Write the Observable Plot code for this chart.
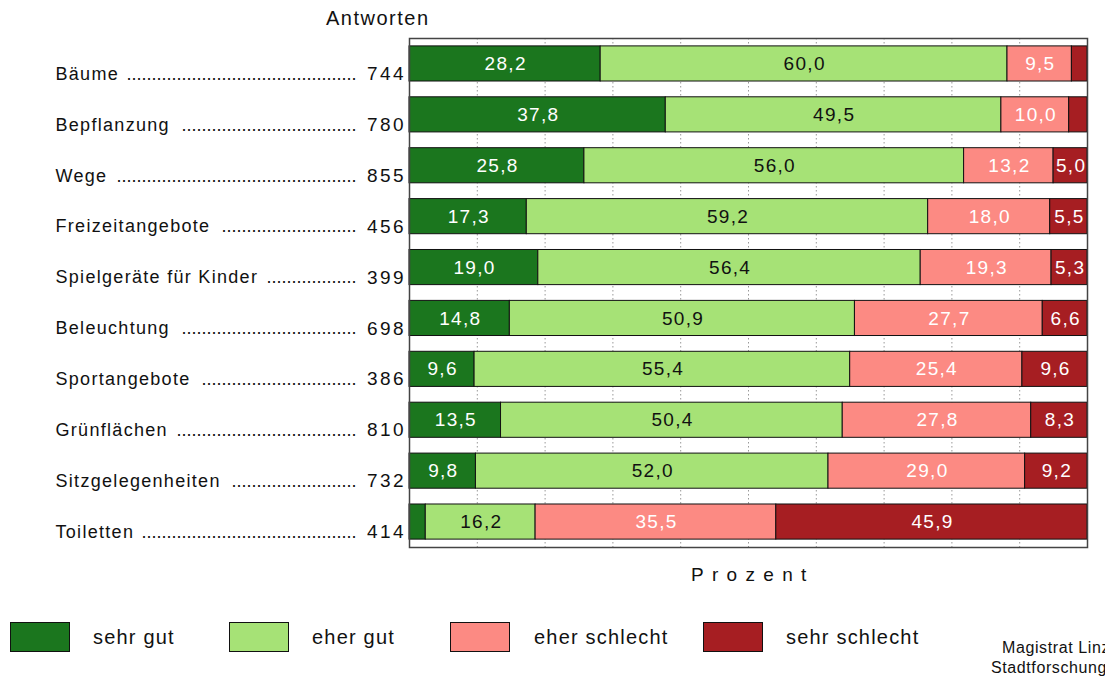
<!DOCTYPE html>
<html>
<head>
<meta charset="utf-8">
<script src="https://cdn.jsdelivr.net/npm/d3@7"></script>
<script src="https://cdn.jsdelivr.net/npm/@observablehq/plot@0.6"></script>
<style>
  html, body { margin: 0; padding: 0; background: #fff; }
  body { width: 1105px; height: 677px; overflow: hidden; position: relative; font-family: "Liberation Sans", Arial, sans-serif; color: #111; }
  .abs { position: absolute; white-space: nowrap; line-height: 1; }
  #chart { position: absolute; left: 0; top: 0; }
  .ls-names text { letter-spacing: 1.3px; }
  .ls-counts text { letter-spacing: 2.4px; }
  .ls-values text { letter-spacing: 1.3px; }
  .ls-dots text { letter-spacing: 0; }
  .sw { position: absolute; width: 58px; height: 28px; border: 1px solid #111; }
</style>
</head>
<body>
<div id="chart"></div>
<script>
// ---- data ----
const items = ["Bäume", "Bepflanzung", "Wege", "Freizeitangebote", "Spielgeräte für Kinder",
  "Beleuchtung", "Sportangebote", "Grünflächen", "Sitzgelegenheiten", "Toiletten"];
const answers = [744, 780, 855, 456, 399, 698, 386, 810, 732, 414];
const categories = ["sehr gut", "eher gut", "eher schlecht", "sehr schlecht"];
const sehrGut      = [28.2, 37.8, 25.8, 17.3, 19.0, 14.8, 9.6, 13.5, 9.8, 2.4];
const eherGut      = [60.0, 49.5, 56.0, 59.2, 56.4, 50.9, 55.4, 50.4, 52.0, 16.2];
const eherSchlecht = [9.5, 10.0, 13.2, 18.0, 19.3, 27.7, 25.4, 27.8, 29.0, 35.5];
const sehrSchlecht = [2.3, 2.7, 5.0, 5.5, 5.3, 6.6, 9.6, 8.3, 9.2, 45.9];
const colors = ["#1b761e", "#a6e276", "#fc8a83", "#a61e22"];
const gridTicks = [10, 20, 30, 40, 50, 60, 70, 80, 90];

const series = [sehrGut, eherGut, eherSchlecht, sehrSchlecht];
const data = [];
items.forEach((item, i) => {
  categories.forEach((cat, j) => data.push({item, cat, value: series[j][i]}));
});
const fmt = v => v.toFixed(1).replace(".", ",");
const rows = items.map((name, i) => ({item: name, count: answers[i]}));

const marginLeft = 409;
const labelLeft = 55, countRight = 403, dotsEnd = 356;
const chart = Plot.plot({
  width: 1105,
  height: 600,
  marginLeft,
  marginRight: 18,
  marginTop: 38,
  marginBottom: 53,
  style: {fontFamily: "'Liberation Sans', Arial, sans-serif", fontSize: "18px", color: "#111", background: "white"},
  x: {domain: [0, 100], axis: null},
  y: {domain: items, axis: null, paddingInner: 0.31, paddingOuter: 0.155, round: false},
  color: {domain: categories, range: colors},
  marks: [
    Plot.ruleX(gridTicks, {x: d => d, stroke: "#999", strokeWidth: 1, strokeDasharray: "1.5,2.5"}),
    Plot.barX(data, Plot.stackX({x: "value", y: "item", fill: "cat", order: categories, stroke: "#111", strokeWidth: 1})),
    Plot.text(data, Plot.stackX({x: "value", y: "item", z: "cat", order: categories, ariaDescription: "values", dx: 0.6,
      text: d => (d.cat !== "eher gut" && d.value >= 5) ? fmt(d.value) : "", fill: "white", fontSize: 19})),
    Plot.text(data, Plot.stackX({x: "value", y: "item", z: "cat", order: categories, ariaDescription: "values", dx: 0.6,
      text: d => (d.cat === "eher gut" && d.value >= 5) ? fmt(d.value) : "", fill: "#111", fontSize: 19})),
    Plot.frame({stroke: "#444", strokeWidth: 1.5}),
    Plot.text(rows, {y: "item", text: "item", frameAnchor: "left", textAnchor: "start", dx: labelLeft - marginLeft, dy: 10, fill: "#111", ariaDescription: "names"}),
    Plot.text(rows, {y: "item", text: () => ".", frameAnchor: "left", textAnchor: "end", dx: dotsEnd - marginLeft, dy: 10, fill: "#111", ariaDescription: "dots"}),
    Plot.text(rows, {y: "item", text: d => String(d.count), frameAnchor: "left", textAnchor: "end", dx: countRight + 2.4 - marginLeft, dy: 10, fill: "#111", fontSize: 19, ariaDescription: "counts"})
  ]
});
document.getElementById("chart").appendChild(chart);

// tag the text groups (fallback: by order of text marks)
const textGroups = chart.querySelectorAll('g[aria-label="text"]');
const roles = ["values", "values", "names", "dots", "counts"];
textGroups.forEach((g, i) => {
  const role = g.getAttribute("aria-description") || roles[i];
  if (role) g.classList.add("ls-" + role);
});

// leader dots: fill the gap between each name and its count
const nameEls = chart.querySelectorAll('.ls-names text');
const dotEls = chart.querySelectorAll('.ls-dots text');
if (dotEls.length && nameEls.length) {
  dotEls[0].textContent = ".".repeat(40);
  const dotW = dotEls[0].getComputedTextLength() / 40;
  dotEls.forEach((el, i) => {
    const nameW = nameEls[i].getComputedTextLength();
    const start = labelLeft + nameW + 7;
    const n = Math.max(0, Math.floor((dotsEnd - start) / dotW));
    el.textContent = ".".repeat(n);
  });
}

// ---- titles, legend, credit ----
function addDiv(text, left, top, size, extra) {
  const d = document.createElement("div");
  d.className = "abs";
  d.textContent = text;
  d.style.left = left + "px";
  d.style.top = top + "px";
  d.style.fontSize = size + "px";
  if (extra) Object.assign(d.style, extra);
  document.body.appendChild(d);
  return d;
}
addDiv("Antworten", 326, 8, 20, {letterSpacing: "1.5px"});
addDiv("Prozent", 691, 565, 19, {letterSpacing: "8.3px"});

const swX = [10, 229, 450, 703];
const txtX = [93, 312, 534, 786];
categories.forEach((c, i) => {
  const s = document.createElement("div");
  s.className = "sw";
  s.style.left = swX[i] + "px";
  s.style.top = "622px";
  s.style.background = colors[i];
  document.body.appendChild(s);
  addDiv(c, txtX[i], 627, 20, {letterSpacing: "1.2px"});
});
addDiv("Magistrat Linz", 1002, 640, 16, {letterSpacing: "0.6px"});
addDiv("Stadtforschung", 991, 660, 16, {letterSpacing: "0.6px"});
</script>
</body>
</html>
